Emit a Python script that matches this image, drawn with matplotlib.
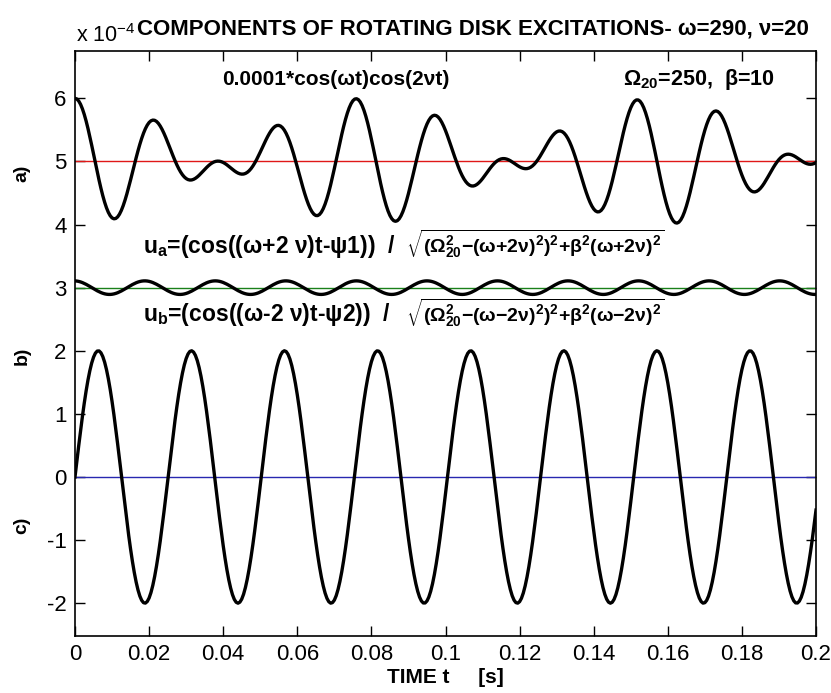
import numpy as np
import matplotlib
matplotlib.use("Agg")
import matplotlib.pyplot as plt

# Excitation parameters (rad/s) and damping
omega = 290.0
nu = 20.0
Omega20 = 250.0
beta = 10.0

# Time axis and vertical offsets of the three traces (units of 1e-4)
t_end = 0.2
dt = 0.0005
offsets = [5.0, 3.0, 0.0]          # a), b), c)
ref_colors = ["#e01818", "#1a801a", "#2828b0"]
x_ticks = [0, 0.02, 0.04, 0.06, 0.08, 0.1, 0.12, 0.14, 0.16, 0.18, 0.2]
x_tick_labels = ["0", "0.02", "0.04", "0.06", "0.08", "0.1", "0.12", "0.14", "0.16", "0.18", "0.2"]
y_ticks = [-2, -1, 0, 1, 2, 3, 4, 5, 6]
y_tick_labels = ["-2", "-1", "0", "1", "2", "3", "4", "5", "6"]
scale = 1e-4

plt.rcParams["font.family"] = ["Liberation Sans", "DejaVu Sans"]
plt.rcParams["mathtext.fontset"] = "custom"
plt.rcParams["mathtext.rm"] = "Liberation Sans:bold"
plt.rcParams["mathtext.it"] = "Liberation Sans:bold"
plt.rcParams["mathtext.bf"] = "Liberation Sans:bold"
plt.rcParams["mathtext.default"] = "regular"
plt.rcParams["axes.unicode_minus"] = False

t = np.arange(0.0, t_end + dt / 2, dt)

# a) the excitation itself
ya = 0.0001 * np.cos(omega * t) * np.cos(2 * nu * t)

# b) response to the (omega + 2 nu) component
wa = omega + 2 * nu
Da = np.sqrt((Omega20**2 - wa**2) ** 2 + beta**2 * wa**2)
psi1 = np.arctan(beta * wa / (Omega20**2 - wa**2))
yb = 0.5 * np.cos(wa * t - psi1) / Da

# c) response to the (omega - 2 nu) component
wb = omega - 2 * nu
denom_b = Omega20**2 - wb**2
psi2 = np.pi / 2 if denom_b == 0 else np.arctan(beta * wb / denom_b)
Db = np.sqrt(denom_b**2 + beta**2 * wb**2)
yc = 0.5 * np.cos(wb * t - psi2) / Db

W, H = 831, 693
fig = plt.figure(figsize=(W / 100, H / 100), dpi=100)
ax = fig.add_axes([75 / W, (H - 636) / H, 741 / W, 585 / H])

for y, off, col in zip([ya, yb, yc], offsets, ref_colors):
    ax.plot(t, y / scale + off, color="black", lw=2.4, zorder=3)
    ax.plot([0, t_end], [off, off], color=col, lw=1.0, zorder=2)

ax.set_xlim(0, t_end)
ax.set_ylim(-2.52, 6.75)
ax.set_xticks(x_ticks)
ax.set_xticklabels(x_tick_labels)
ax.set_yticks(y_ticks)
ax.set_yticklabels(y_tick_labels)
ax.tick_params(direction="in", top=True, right=True, length=7, width=1,
               labelsize=16, pad=6)
for s in ax.spines.values():
    s.set_linewidth(1.2)

ax.set_xlabel("TIME t     [s]", fontsize=15, fontweight="bold", labelpad=2)

# annotations
bold = dict(fontweight="bold", va="baseline")
ax.text(0.0397, 6.21, "0.0001*cos(ωt)cos(2νt)", fontsize=15, **bold)
ax.text(0.1479, 6.21, r"$\Omega_{20}$=250,  β=10", fontsize=15.5, **bold)

ax.text(0.0184, 3.555, r"u$_a$=(cos((ω+2 ν)t-ψ1))  /", fontsize=16.5, **bold)
ax.text(0.0893, 3.555,
        r"$\sqrt{(\Omega_{20}^2{-}(\omega{+}2\nu)^2)^2{+}\beta^2(\omega{+}2\nu)^2}$",
        fontsize=14, **bold)
ax.text(0.0184, 2.464, r"u$_b$=(cos((ω-2 ν)t-ψ2))  /", fontsize=16.5, **bold)
ax.text(0.0893, 2.464,
        r"$\sqrt{(\Omega_{20}^2{-}(\omega{-}2\nu)^2)^2{+}\beta^2(\omega{-}2\nu)^2}$",
        fontsize=14, **bold)

# trace labels on the left
for lab, ypx in zip(["a)", "b)", "c)"], [173, 356, 525]):
    fig.text(22 / W, 1 - ypx / H, lab, rotation=90, fontsize=14, fontweight="bold",
             ha="center", va="center")

fig.text(76 / W, 1 - 42 / H, r"x 10$^{-4}$", fontsize=15.5, va="baseline")
fig.text(137 / W, 1 - 35 / H, "COMPONENTS OF ROTATING DISK EXCITATIONS- ω=290, ν=20",
         fontsize=16, fontweight="bold", va="baseline")

fig.savefig("out.png", dpi=100)
